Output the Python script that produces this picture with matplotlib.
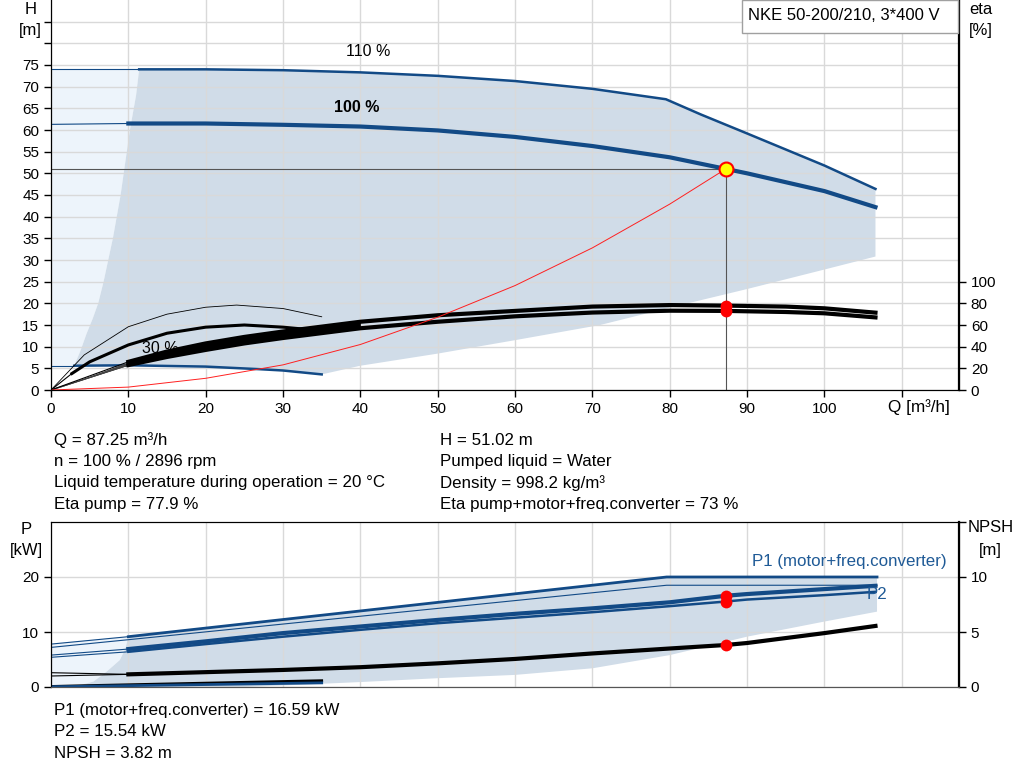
import matplotlib
matplotlib.use("Agg")
import matplotlib.pyplot as plt
from matplotlib.patches import Rectangle

plt.rcParams['font.family'] = ['Liberation Sans', 'DejaVu Sans']
plt.rcParams['font.size'] = 12

BLUE = '#124a86'
SHADE = '#d0dce8'
LIGHT = '#edf4fb'
GRID = '#d9d9d9'

# -----------------------------
# 1. Curve data
# -----------------------------
# head, 100 % speed
q_h100 = [0, 10, 20, 30, 40, 50, 60, 70, 80, 87.25, 90, 100, 106.6]
h_100 = [61.3, 61.5, 61.5, 61.2, 60.8, 59.9, 58.4, 56.3, 53.7, 51.02, 50.0, 45.9, 42.2]

# head, 110 % speed (max curve)
q_h110 = [0, 11.4, 20, 30, 40, 50, 60, 70, 79.5, 84, 90, 100, 106.6]
h_110 = [74.0, 74.0, 74.0, 73.8, 73.3, 72.5, 71.3, 69.5, 67.1, 63.6, 59.2, 51.8, 46.4]

# head, 30 % speed
q_h30 = [0, 3, 10, 20, 27, 30, 35]
h_30 = [5.6, 5.6, 5.7, 5.4, 4.8, 4.5, 3.6]

# minimum flow border of the operating range
q_minflow = [3.0, 3.8, 4.6, 5.4, 6.1, 6.8, 7.4, 8.0, 8.5, 9.0, 9.4, 9.8, 10.2, 10.7, 11.0, 11.4]
h_minflow = [5.6, 9, 13, 16.5, 20, 25, 30, 35, 40, 45, 50, 55, 60, 65, 68, 74.0]

# lower border of the operating range (right part)
q_lowborder = [106.6, 100, 90, 80, 71, 60, 50, 40, 35]
h_lowborder = [30.8, 27.8, 23.3, 19.0, 15.0, 11.5, 8.4, 5.6, 3.6]

# system curve
q_sys = [0, 10, 20, 30, 40, 50, 60, 70, 80, 87.25]
h_sys = [0, 0.67, 2.7, 5.8, 10.5, 16.8, 24.1, 32.8, 42.9, 51.02]

# efficiency [%], 100 % speed
q_eta = [10, 15, 20, 25, 30, 40, 50, 60, 70, 80, 87.25, 95, 100, 106.6]
eta_pump = [26, 35.5, 43, 49, 54, 63, 69, 73, 77, 78.4, 77.9, 77, 75.4, 71.4]
eta_total = [23, 30.5, 37, 43, 48, 57, 63, 68, 71.5, 73.2, 73, 72, 70.8, 67]

# efficiency [%], 30 % speed
q_eta30_pump = [0, 4.3, 10, 15, 20, 24, 30, 35]
eta30_pump = [0, 32.4, 58.4, 70, 76.4, 78.4, 75.2, 67.6]
q_eta30_total = [2.7, 5, 10, 15, 20, 25, 30, 33]
eta30_total = [15.2, 26, 41.6, 52.4, 58, 60, 58, 56]

# power [kW]
q_p = [0, 10, 20, 30, 40, 50, 60, 70, 80, 87.25, 90, 100, 106.6]
p1 = [5.8, 6.9, 8.3, 9.8, 11.0, 12.2, 13.3, 14.3, 15.4, 16.59, 16.9, 17.8, 18.4]
p2 = [5.4, 6.4, 7.8, 9.15, 10.4, 11.6, 12.6, 13.6, 14.7, 15.54, 15.9, 16.7, 17.3]

q_pmax = [0, 10, 79.6, 106.8]
p1_max = [7.8, 9.15, 20.0, 20.0]
p2_max = [7.2, 8.6, 18.5, 18.5]

q_p30 = [0, 3, 35]
p1_30 = [0.1, 0.2, 1.15]
p2_30 = [0.05, 0.1, 0.75]

# power operating range
q_pminflow = [2.9, 5.5, 7.2, 8.9, 9.6, 10.0]
p_pminflow = [0, 1.0, 2.8, 4.9, 6.9, 9.15]
q_plow = [106.8, 100, 90, 80, 70, 60, 50, 40, 32, 25]
p_plow = [13.7, 11.9, 9.15, 5.8, 3.4, 2.2, 1.6, 0.9, 0.4, 0]

# NPSH [m]
q_npsh = [0, 10, 20, 30, 40, 50, 60, 70, 80, 87.25, 90, 100, 106.6]
npsh = [1.15, 1.15, 1.35, 1.55, 1.8, 2.15, 2.55, 3.05, 3.5, 3.82, 4.0, 4.9, 5.55]

# duty point
q_duty = 87.25
h_duty = 51.02
eta_duty = [77.9, 73]
p_duty = [16.59, 15.54]
npsh_duty = 3.82

# -----------------------------
# 2. Figure
# -----------------------------
fig = plt.figure(figsize=(10.24, 7.81), dpi=100)

ax = fig.add_axes([51 / 1024, 391 / 781, 908 / 1024, 390 / 781])
axe = ax.twinx()
ax.set_axisbelow(True)

# operating range shading
ax.fill(
    [0, 0] + q_h110[1:2] + q_minflow[::-1],
    [5.6, 74.0] + h_110[1:2] + h_minflow[::-1],
    color=LIGHT, lw=0, zorder=0.2)
ax.fill(
    q_minflow + q_h110[1:] + q_lowborder + q_h30[::-1][1:-1],
    h_minflow + h_110[1:] + h_lowborder + h_30[::-1][1:-1],
    color=SHADE, lw=0, zorder=0.3)

# head curves
ax.plot(q_h110[:2], h_110[:2], color=BLUE, lw=0.8, zorder=3)
ax.plot(q_h110[1:], h_110[1:], color=BLUE, lw=1.8, zorder=3)
ax.plot(q_h100[:2], h_100[:2], color=BLUE, lw=0.8, zorder=3)
ax.plot(q_h100[1:], h_100[1:], color=BLUE, lw=3.0, zorder=3)
ax.plot(q_h30[:2], h_30[:2], color=BLUE, lw=0.8, zorder=3)
ax.plot(q_h30[1:], h_30[1:], color=BLUE, lw=1.8, zorder=3)

# efficiency curves (on eta axis)
et = axe.transData
ax.plot([0, q_eta[0]], [0, eta_pump[0]], color='k', lw=0.8, transform=et, zorder=4)
ax.plot([0, q_eta[0]], [0, eta_total[0]], color='k', lw=0.8, transform=et, zorder=4)
ax.fill_between([0, q_eta[0]], [0, eta_total[0]], [0, eta_pump[0]],
                color='#444444', lw=0, transform=et, zorder=4)
ax.fill_between(q_eta[:6], eta_total[:6], eta_pump[:6],
                color='k', lw=0, transform=et, zorder=4)
ax.plot(q_eta, eta_pump, color='k', lw=3.0, transform=et, zorder=4)
ax.plot(q_eta, eta_total, color='k', lw=3.0, transform=et, zorder=4)
ax.plot(q_eta30_pump, eta30_pump, color='k', lw=0.6, transform=et, zorder=4)
ax.plot([0, q_eta30_total[0]], [0, eta30_total[0]], color='k', lw=0.8,
        transform=et, zorder=4)
ax.plot(q_eta30_total, eta30_total, color='k', lw=2.2, transform=et, zorder=4)

# system curve and duty point
ax.plot(q_sys, h_sys, color='#ff2020', lw=0.7, zorder=5)
ax.plot([0, q_duty], [h_duty, h_duty], color='#555555', lw=0.8, zorder=2)
ax.plot([q_duty, q_duty], [0, h_duty], color='#555555', lw=0.8, zorder=2)
ax.plot([q_duty] * 2, eta_duty, 'o', color='#ff0000', ms=8.5, mew=0,
        transform=et, zorder=6)
ax.plot(q_duty, h_duty, 'o', ms=10, mfc='#ffff00', mec='#ff0000', mew=1.5, zorder=7)

ax.text(41.0, 78.0, '110 %', ha='center', va='center', fontsize=11.5, zorder=2.5)
ax.text(39.5, 65.1, '100 %', ha='center', va='center', fontsize=11.5,
        fontweight='bold', zorder=2.5)
ax.text(14.1, 9.5, '30 %', ha='center', va='center', fontsize=11.5, zorder=3.5)

ax.set_xlim(0, 117.4)
ax.set_ylim(0, 90)
axe.set_ylim(0, 360)
ax.set_xticks(range(0, 120, 10))
ax.set_xticklabels([str(v) for v in range(0, 110, 10)] + [''])
ax.set_yticks(range(0, 90, 5))
ax.set_yticklabels([str(v) for v in range(0, 80, 5)] + ['', ''])
axe.set_yticks(range(0, 120, 20))
ax.grid(True, color=GRID, lw=1.0)
ax.tick_params(direction='out', length=5, width=1, labelsize=11)
axe.tick_params(direction='out', length=5, width=1, labelsize=11)
for a in (ax, axe):
    a.spines['top'].set_visible(False)
axe.spines['right'].set_linewidth(1.6)

# -----------------------------
# 3. Power / NPSH panel
# -----------------------------
axb = fig.add_axes([51 / 1024, 94 / 781, 908 / 1024, 165 / 781])
axn = axb.twinx()
axb.set_axisbelow(True)

axb.fill([0, 0] + q_pmax[1:2] + q_pminflow[::-1],
         [0, p1_max[0]] + p1_max[1:2] + p_pminflow[::-1],
         color=LIGHT, lw=0, zorder=0.2)
axb.fill(q_pminflow + q_pmax[2:] + q_plow,
         p_pminflow + p1_max[2:] + p_plow,
         color=SHADE, lw=0, zorder=0.3)

axb.plot(q_pmax[:2], p1_max[:2], color=BLUE, lw=0.8, zorder=3)
axb.plot(q_pmax[1:], p1_max[1:], color=BLUE, lw=2.0, zorder=3)
axb.plot(q_pmax, p2_max, color=BLUE, lw=0.8, zorder=3)
axb.plot(q_p[:2], p1[:2], color=BLUE, lw=0.8, zorder=3)
axb.plot(q_p[1:], p1[1:], color=BLUE, lw=3.0, zorder=3)
axb.plot(q_p[:2], p2[:2], color=BLUE, lw=0.8, zorder=3)
axb.plot(q_p[1:], p2[1:], color=BLUE, lw=1.8, zorder=3)
axb.plot(q_p30, p1_30, color='k', lw=2.0, zorder=3)
axb.plot(q_p30, p2_30, color=BLUE, lw=2.0, zorder=3)

nt = axn.transData
axb.plot(q_npsh[:2], [1.3, npsh[1]], color='k', lw=0.8, transform=nt, zorder=4)
axb.plot(q_npsh[:2], [1.0, npsh[1]], color='k', lw=0.8, transform=nt, zorder=4)
axb.plot(q_npsh[1:], npsh[1:], color='k', lw=3.0, transform=nt, zorder=4)

axb.plot([q_duty] * 2, p_duty, 'o', color='#ff0000', ms=8.5, mew=0, zorder=6)
axb.plot(q_duty, npsh_duty, 'o', color='#ff0000', ms=8.5, mew=0,
         transform=nt, zorder=6)

axb.text(103.2, 22.9, 'P1 (motor+freq.converter)', color='#1f5a96',
         ha='center', va='center', fontsize=12.2, zorder=5)
axb.text(106.8, 16.9, 'P2', color='#1f5a96', ha='center', va='center',
         fontsize=12.2, zorder=5)

axb.set_xlim(0, 117.4)
axb.set_ylim(0, 30)
axn.set_ylim(0, 15)
axb.set_xticks(range(0, 120, 10))
axb.set_yticks([0, 10, 20])
axn.set_yticks([0, 5, 10, 15])
axn.set_yticklabels(['0', '5', '10', ''])
axb.grid(True, color=GRID, lw=1.0)
axb.tick_params(axis='x', length=0, labelbottom=False)
axb.tick_params(axis='y', direction='out', length=5, width=1, labelsize=11)
axn.tick_params(direction='out', length=5, width=1, labelsize=11)
axn.spines['right'].set_linewidth(1.6)
for a in (axb, axn):
    a.spines['bottom'].set_color('#555555')

# -----------------------------
# 4. Labels and info text
# -----------------------------
def fy(px):
    return 1 - px / 781


def fx(px):
    return px / 1024


fig.text(fx(30.5), fy(9), 'H', ha='center', va='center')
fig.text(fx(30.5), fy(30), '[m]', ha='center', va='center')
fig.text(fx(981), fy(10), 'eta', ha='center', va='center')
fig.text(fx(981), fy(30), '[%]', ha='center', va='center')
fig.text(fx(888), fy(407), 'Q [m³/h]', ha='left', va='center', fontsize=12.3)
fig.text(fx(26), fy(530), 'P', ha='center', va='center')
fig.text(fx(26), fy(550), '[kW]', ha='center', va='center')
fig.text(fx(991), fy(528), 'NPSH', ha='center', va='center')
fig.text(fx(990), fy(550), '[m]', ha='center', va='center')

fig.patches.append(Rectangle((fx(742), fy(33)), fx(216), 33 / 781,
                             transform=fig.transFigure, facecolor='white',
                             edgecolor='#a0a0a0', lw=1, zorder=2))
fig.text(fx(748), fy(15), 'NKE 50-200/210, 3*400 V', ha='left', va='center',
         zorder=3)

info_left = ['Q = 87.25 m³/h', 'n = 100 % / 2896 rpm',
             'Liquid temperature during operation = 20 °C', 'Eta pump = 77.9 %']
info_right = ['H = 51.02 m', 'Pumped liquid = Water', 'Density = 998.2 kg/m³',
              'Eta pump+motor+freq.converter = 73 %']
info_power = ['P1 (motor+freq.converter) = 16.59 kW', 'P2 = 15.54 kW',
              'NPSH = 3.82 m']
for i, yy in enumerate([440.5, 461.7, 482.7, 504]):
    fig.text(fx(54), fy(yy), info_left[i], ha='left', va='center', fontsize=12.2)
    fig.text(fx(440), fy(yy), info_right[i], ha='left', va='center', fontsize=12.2)
for i, yy in enumerate([711, 732, 753]):
    fig.text(fx(54), fy(yy), info_power[i], ha='left', va='center', fontsize=12.2)

fig.savefig('out.png', dpi=100)
